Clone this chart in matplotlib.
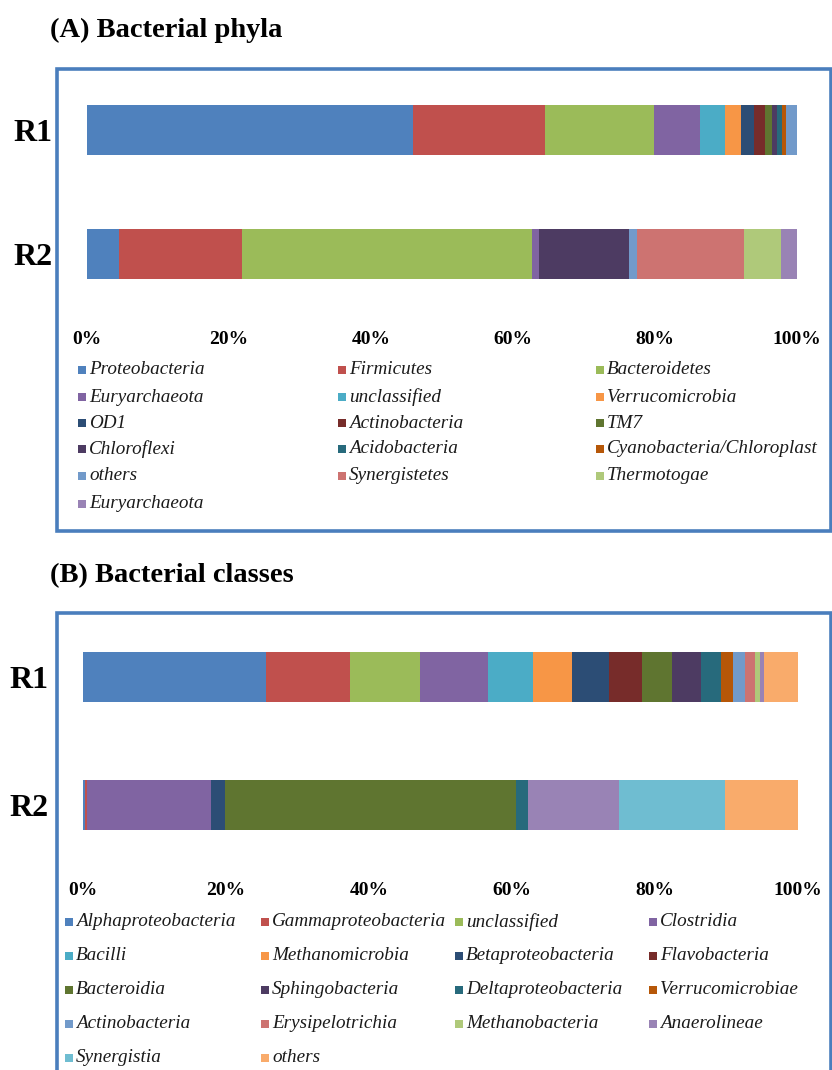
import numpy as np
import matplotlib
matplotlib.use('Agg')
import matplotlib.pyplot as plt
from matplotlib.patches import Rectangle

plt.rcParams['font.family'] = ['Liberation Serif', 'DejaVu Serif']

W, H = 832, 1070
samples = ['R1', 'R2']

# office-style palette, one colour per series in order
palette = ['#4F81BD', '#C0504D', '#9BBB59', '#8064A2', '#4BACC6', '#F79646',
           '#2C4D75', '#772C2A', '#5F7530', '#4D3B62', '#276A7C', '#B65708',
           '#729ACA', '#CD7371', '#AFC97A', '#9983B5', '#6FBDD1', '#F9AB6B']

# (A) phyla, relative abundance %
phyla = ['Proteobacteria', 'Firmicutes', 'Bacteroidetes', 'Euryarchaeota',
         'unclassified', 'Verrucomicrobia', 'OD1', 'Actinobacteria', 'TM7',
         'Chloroflexi', 'Acidobacteria', 'Cyanobacteria/Chloroplast', 'others',
         'Synergistetes', 'Thermotogae', 'Euryarchaeota']
phyla_r1 = [45.9, 18.6, 15.4, 6.5, 3.4, 2.3, 1.9, 1.5, 1.0, 0.7, 0.7, 0.6, 1.5, 0, 0, 0]
phyla_r2 = [4.5, 17.3, 40.9, 1.0, 0, 0, 0, 0, 0, 12.7, 0, 0, 1.0, 15.1, 5.3, 2.2]

# (B) classes, relative abundance %
classes = ['Alphaproteobacteria', 'Gammaproteobacteria', 'unclassified', 'Clostridia',
           'Bacilli', 'Methanomicrobia', 'Betaproteobacteria', 'Flavobacteria',
           'Bacteroidia', 'Sphingobacteria', 'Deltaproteobacteria', 'Verrucomicrobiae',
           'Actinobacteria', 'Erysipelotrichia', 'Methanobacteria', 'Anaerolineae',
           'Synergistia', 'others']
classes_r1 = [25.6, 11.7, 9.8, 9.5, 6.3, 5.5, 5.1, 4.7, 4.2, 4.1, 2.7, 1.7, 1.7, 1.4, 0.7, 0.6, 0, 4.7]
classes_r2 = [0.3, 0.3, 0, 17.3, 0, 0, 1.9, 0, 40.8, 0, 1.7, 0, 0, 0, 0, 12.6, 14.9, 10.2]

xticks = [0, 20, 40, 60, 80, 100]
xticklabels = ['0%', '20%', '40%', '60%', '80%', '100%']

BORDER = '#4a7ebd'


def fx(x):
    return x / W


def fy(y):
    return 1 - y / H


fig = plt.figure(figsize=(W / 100, H / 100), dpi=100)


def panel_box(top, bottom):
    r = Rectangle((fx(57), fy(bottom)), fx(831) - fx(57), fy(top) - fy(bottom),
                  transform=fig.transFigure, fill=False, ec=BORDER, lw=2.6)
    fig.patches.append(r)


def stacked(left, right, top, bottom, names, r1, r2, height, pad):
    ax = fig.add_axes([fx(left), fy(bottom), fx(right) - fx(left), fy(top) - fy(bottom)])
    vals = np.array([r1, r2], dtype=float)
    start = np.zeros(2)
    for i, name in enumerate(names):
        ax.barh([0, 1], vals[:, i], left=start, height=height,
                color=palette[i], linewidth=0, label=name)
        start += vals[:, i]
    ax.set_xlim(0, 100)
    ax.set_ylim(1.5, -0.5)
    ax.set_yticks([0, 1])
    ax.set_yticklabels(samples, fontsize=23, fontweight='bold')
    ax.set_xticks(xticks)
    ax.set_xticklabels(xticklabels, fontsize=14, fontweight='bold')
    ax.tick_params(axis='y', length=0, pad=25)
    ax.tick_params(axis='x', length=0, pad=pad)
    for s in ax.spines.values():
        s.set_visible(False)
    ax.patch.set_alpha(0)
    return ax


def legend_grid(names, ncol, col_x, row_y, size):
    for i, name in enumerate(names):
        r, c = divmod(i, ncol)
        x, y = col_x[c], row_y[r]
        fig.patches.append(Rectangle((fx(x - 4), fy(y + 4)), 8 / W, 8 / H,
                                     transform=fig.transFigure,
                                     fc=palette[i], ec='none'))
        fig.text(fx(x + 7), fy(y), name, fontsize=size, style='italic',
                 va='center', ha='left', color='#1a1a1a')


# (A) Bacterial phyla
fig.text(fx(50), fy(30), '(A) Bacterial phyla', fontsize=20.5, fontweight='bold',
         va='center', ha='left')
panel_box(69, 531)
stacked(87, 797, 68, 316, phyla, phyla_r1, phyla_r2, 0.403, 11)
legend_grid(phyla, 3, [82, 342, 600], [370, 397, 423, 449, 476, 504], 13.8)

# (B) Bacterial classes
fig.text(fx(50), fy(576), '(B) Bacterial classes', fontsize=20.5, fontweight='bold',
         va='center', ha='left')
panel_box(613, 1090)
stacked(83, 798, 613, 869, classes, classes_r1, classes_r2, 0.39, 9.5)
legend_grid(classes, 4, [69, 265, 459, 653], [922, 956, 990, 1024, 1058], 13.8)

fig.savefig('out.png', dpi=100, facecolor='white')
